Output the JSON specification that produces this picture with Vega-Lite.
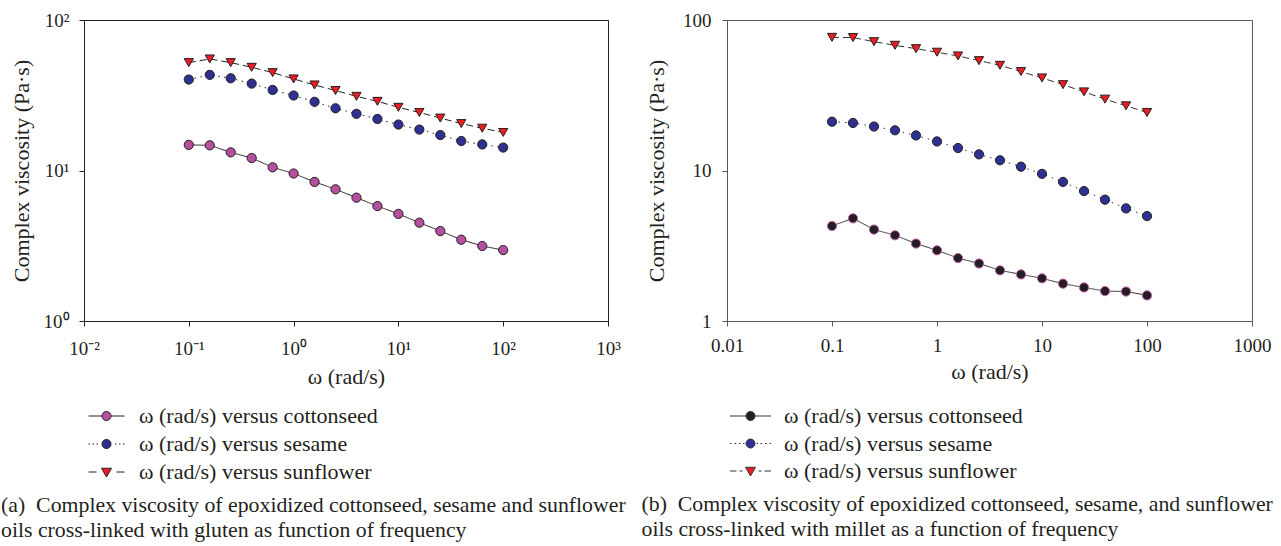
{
  "$schema": "https://vega.github.io/schema/vega-lite/v6.json",
  "background": "white",
  "padding": {"left": 0, "top": 10, "right": 5, "bottom": 5},
  "config": {
    "font": "Liberation Serif",
    "view": {"stroke": "#231f20", "strokeWidth": 1},
    "axis": {"labelFont": "Liberation Serif", "titleFont": "Liberation Serif", "labelFontSize": 19, "titleFontSize": 22, "titleFontWeight": "normal", "labelColor": "#231f20", "titleColor": "#231f20", "grid": false, "tickSize": 5, "labelFlush": false, "labelOverlap": false},
    "title": {"font": "Liberation Serif", "fontSize": 21.8, "fontWeight": "normal", "color": "#231f20"}
  },
  "datasets": {
    "gluten": [
      {"w": 0.1, "oil": "cottonseed", "v": 14.8}, {"w": 0.1585, "oil": "cottonseed", "v": 14.7}, {"w": 0.2512, "oil": "cottonseed", "v": 13.2}, {"w": 0.3981, "oil": "cottonseed", "v": 12.1},
      {"w": 0.631, "oil": "cottonseed", "v": 10.5}, {"w": 1, "oil": "cottonseed", "v": 9.55}, {"w": 1.585, "oil": "cottonseed", "v": 8.4}, {"w": 2.512, "oil": "cottonseed", "v": 7.5},
      {"w": 3.981, "oil": "cottonseed", "v": 6.6}, {"w": 6.31, "oil": "cottonseed", "v": 5.8}, {"w": 10, "oil": "cottonseed", "v": 5.15}, {"w": 15.85, "oil": "cottonseed", "v": 4.5},
      {"w": 25.12, "oil": "cottonseed", "v": 3.96}, {"w": 39.81, "oil": "cottonseed", "v": 3.47}, {"w": 63.1, "oil": "cottonseed", "v": 3.15}, {"w": 100, "oil": "cottonseed", "v": 2.96},
      {"w": 0.1, "oil": "sesame", "v": 40.2}, {"w": 0.1585, "oil": "sesame", "v": 43.2}, {"w": 0.2512, "oil": "sesame", "v": 41.0}, {"w": 0.3981, "oil": "sesame", "v": 37.8},
      {"w": 0.631, "oil": "sesame", "v": 34.3}, {"w": 1, "oil": "sesame", "v": 31.5}, {"w": 1.585, "oil": "sesame", "v": 28.6}, {"w": 2.512, "oil": "sesame", "v": 25.9},
      {"w": 3.981, "oil": "sesame", "v": 23.8}, {"w": 6.31, "oil": "sesame", "v": 22.0}, {"w": 10, "oil": "sesame", "v": 20.2}, {"w": 15.85, "oil": "sesame", "v": 18.7},
      {"w": 25.12, "oil": "sesame", "v": 17.2}, {"w": 39.81, "oil": "sesame", "v": 15.7}, {"w": 63.1, "oil": "sesame", "v": 14.9}, {"w": 100, "oil": "sesame", "v": 14.2},
      {"w": 0.1, "oil": "sunflower", "v": 52.1}, {"w": 0.1585, "oil": "sunflower", "v": 55.1}, {"w": 0.2512, "oil": "sunflower", "v": 52.1}, {"w": 0.3981, "oil": "sunflower", "v": 48.5},
      {"w": 0.631, "oil": "sunflower", "v": 44.7}, {"w": 1, "oil": "sunflower", "v": 40.6}, {"w": 1.585, "oil": "sunflower", "v": 37.0}, {"w": 2.512, "oil": "sunflower", "v": 34.0},
      {"w": 3.981, "oil": "sunflower", "v": 31.1}, {"w": 6.31, "oil": "sunflower", "v": 28.8}, {"w": 10, "oil": "sunflower", "v": 26.3}, {"w": 15.85, "oil": "sunflower", "v": 24.3},
      {"w": 25.12, "oil": "sunflower", "v": 22.3}, {"w": 39.81, "oil": "sunflower", "v": 20.5}, {"w": 63.1, "oil": "sunflower", "v": 19.1}, {"w": 100, "oil": "sunflower", "v": 17.9}
    ],
    "millet": [
      {"w": 0.1, "oil": "cottonseed", "v": 4.28}, {"w": 0.1585, "oil": "cottonseed", "v": 4.81}, {"w": 0.2512, "oil": "cottonseed", "v": 4.05}, {"w": 0.3981, "oil": "cottonseed", "v": 3.71},
      {"w": 0.631, "oil": "cottonseed", "v": 3.27}, {"w": 1, "oil": "cottonseed", "v": 2.95}, {"w": 1.585, "oil": "cottonseed", "v": 2.62}, {"w": 2.512, "oil": "cottonseed", "v": 2.41},
      {"w": 3.981, "oil": "cottonseed", "v": 2.17}, {"w": 6.31, "oil": "cottonseed", "v": 2.04}, {"w": 10, "oil": "cottonseed", "v": 1.92}, {"w": 15.85, "oil": "cottonseed", "v": 1.77},
      {"w": 25.12, "oil": "cottonseed", "v": 1.67}, {"w": 39.81, "oil": "cottonseed", "v": 1.58}, {"w": 63.1, "oil": "cottonseed", "v": 1.57}, {"w": 100, "oil": "cottonseed", "v": 1.48},
      {"w": 0.1, "oil": "sesame", "v": 21.1}, {"w": 0.1585, "oil": "sesame", "v": 20.7}, {"w": 0.2512, "oil": "sesame", "v": 19.6}, {"w": 0.3981, "oil": "sesame", "v": 18.5},
      {"w": 0.631, "oil": "sesame", "v": 17.1}, {"w": 1, "oil": "sesame", "v": 15.6}, {"w": 1.585, "oil": "sesame", "v": 14.1}, {"w": 2.512, "oil": "sesame", "v": 12.8},
      {"w": 3.981, "oil": "sesame", "v": 11.7}, {"w": 6.31, "oil": "sesame", "v": 10.6}, {"w": 10, "oil": "sesame", "v": 9.5}, {"w": 15.85, "oil": "sesame", "v": 8.4},
      {"w": 25.12, "oil": "sesame", "v": 7.3}, {"w": 39.81, "oil": "sesame", "v": 6.4}, {"w": 63.1, "oil": "sesame", "v": 5.6}, {"w": 100, "oil": "sesame", "v": 4.98},
      {"w": 0.1, "oil": "sunflower", "v": 76.7}, {"w": 0.1585, "oil": "sunflower", "v": 76.4}, {"w": 0.2512, "oil": "sunflower", "v": 71.8}, {"w": 0.3981, "oil": "sunflower", "v": 67.9},
      {"w": 0.631, "oil": "sunflower", "v": 64.5}, {"w": 1, "oil": "sunflower", "v": 61.1}, {"w": 1.585, "oil": "sunflower", "v": 57.7}, {"w": 2.512, "oil": "sunflower", "v": 53.7},
      {"w": 3.981, "oil": "sunflower", "v": 50.0}, {"w": 6.31, "oil": "sunflower", "v": 45.4}, {"w": 10, "oil": "sunflower", "v": 41.2}, {"w": 15.85, "oil": "sunflower", "v": 37.2},
      {"w": 25.12, "oil": "sunflower", "v": 33.3}, {"w": 39.81, "oil": "sunflower", "v": 29.8}, {"w": 63.1, "oil": "sunflower", "v": 26.9}, {"w": 100, "oil": "sunflower", "v": 24.3}
    ]
  },
  "bounds": "flush",
  "spacing": 119,
  "resolve": {
    "scale": {"x": "independent", "y": "independent", "fill": "independent", "shape": "independent", "strokeDash": "independent", "stroke": "independent"},
    "legend": {"fill": "independent", "shape": "independent", "strokeDash": "independent", "stroke": "independent"},
    "axis": {"x": "independent", "y": "independent"}
  },
  "hconcat": [
    {
      "width": 524,
      "height": 301,
      "data": {"name": "gluten"},
      "title": {"text": ["(a)\u00a0 Complex viscosity of epoxidized cottonseed, sesame and sunflower", "oils cross-linked with gluten as function of frequency"], "orient": "bottom", "anchor": "start", "frame": "bounds", "dx": -9, "offset": 12, "lineHeight": 25},
      "encoding": {
        "x": {"field": "w", "type": "quantitative", "scale": {"type": "log", "domain": [0.01, 1000]},
          "axis": {"title": "ω (rad/s)", "values": [0.01, 0.1, 1, 10, 100, 1000], "labelExpr": "datum.value < 0.05 ? '10⁻²' : datum.value < 0.5 ? '10⁻¹' : datum.value < 5 ? '10⁰' : datum.value < 50 ? '10¹' : datum.value < 500 ? '10²' : '10³'", "labelPadding": 13, "titlePadding": 8, "domainColor": "#231f20", "tickColor": "#231f20"}},
        "y": {"field": "v", "type": "quantitative", "scale": {"type": "log", "domain": [1, 100]},
          "axis": {"title": "Complex viscosity (Pa·s)", "values": [1, 10, 100], "labelExpr": "datum.value < 5 ? '10⁰' : datum.value < 50 ? '10¹' : '10²'", "labelPadding": 10, "titlePadding": 10, "domainColor": "#231f20", "tickColor": "#231f20"}}
      },
      "layer": [
        {"mark": {"type": "line", "color": "#231f20", "strokeWidth": 1},
          "encoding": {"strokeDash": {"field": "oil", "type": "nominal", "scale": {"domain": ["sesame", "sunflower", "cottonseed"], "range": [[1.5, 4.5], [7, 4], [1, 0]]}, "legend": null}}},
        {"mark": {"type": "point", "filled": true, "opacity": 1, "size": 85, "stroke": "#231f20", "strokeWidth": 1},
          "encoding": {
            "shape": {"field": "oil", "type": "nominal", "scale": {"domain": ["sunflower", "sesame", "cottonseed"], "range": ["triangle-down", "circle", "circle"]}, "legend": null},
            "fill": {"field": "oil", "type": "nominal", "scale": {"domain": ["cottonseed", "sesame", "sunflower"], "range": ["#b5509f", "#2e3192", "#ed1c24"]},
              "legend": {"orient": "none", "legendX": 11.5, "legendY": 385, "direction": "vertical", "title": null, "padding": 0, "symbolSize": 100, "rowPadding": 6, "labelOffset": 21.5, "labelFont": "Liberation Serif", "labelFontSize": 22, "labelColor": "#231f20", "labelLimit": 0,
                "symbolStrokeColor": "#231f20", "symbolStrokeWidth": 1, "symbolOpacity": 1,
                "symbolType": {"expr": "datum.value === 'cottonseed' ? 'M-3.6,0H-0.9M0.9,0H3.6M0.9,0A0.9,0.9 0 1,1 -0.9,0A0.9,0.9 0 1,1 0.9,0Z' : datum.value === 'sesame' ? 'M-3.6,0H-3.3M-2.8,0H-2.5M-2,0H-1.7M1.7,0H2M2.5,0H2.8M3.3,0H3.6M0.9,0A0.9,0.9 0 1,1 -0.9,0A0.9,0.9 0 1,1 0.9,0Z' : 'M-3.6,0H-2M2,0H3.6M-1,-0.75H1L0,1Z'"},
                "labelExpr": "'ω (rad/s) versus ' + datum.label"}}
          }}
      ]
    },
    {
      "width": 525,
      "height": 301,
      "view": {"stroke": "#58595b"},
      "data": {"name": "millet"},
      "title": {"text": ["(b)\u00a0 Complex viscosity of epoxidized cottonseed, sesame, and sunflower", "oils cross-linked with millet as a function of frequency"], "orient": "bottom", "anchor": "start", "frame": "bounds", "dx": -4, "offset": 12, "lineHeight": 25},
      "encoding": {
        "x": {"field": "w", "type": "quantitative", "scale": {"type": "log", "domain": [0.01, 1000]},
          "axis": {"title": "ω (rad/s)", "values": [0.01, 0.1, 1, 10, 100, 1000], "labelExpr": "datum.value < 0.05 ? '0.01' : datum.value < 0.5 ? '0.1' : format(datum.value, 'd')", "labelPadding": 10, "titlePadding": 6, "domainColor": "#58595b", "tickColor": "#58595b"}},
        "y": {"field": "v", "type": "quantitative", "scale": {"type": "log", "domain": [1, 100]},
          "axis": {"title": "Complex viscosity (Pa·s)", "values": [1, 10, 100], "labelExpr": "format(datum.value, 'd')", "labelPadding": 11, "titlePadding": 14, "domainColor": "#58595b", "tickColor": "#58595b"}}
      },
      "layer": [
        {"mark": {"type": "line", "color": "#333333", "strokeWidth": 1},
          "encoding": {"strokeDash": {"field": "oil", "type": "nominal", "scale": {"domain": ["sesame", "sunflower", "cottonseed"], "range": [[1.5, 5], [7, 4], [1, 0]]}, "legend": null}}},
        {"mark": {"type": "point", "filled": true, "opacity": 1, "size": 85, "strokeWidth": 1},
          "encoding": {
            "shape": {"field": "oil", "type": "nominal", "scale": {"domain": ["sunflower", "sesame", "cottonseed"], "range": ["triangle-down", "circle", "circle"]}, "legend": null},
            "stroke": {"field": "oil", "type": "nominal", "scale": {"domain": ["sesame", "cottonseed", "sunflower"], "range": ["#231f20", "#c45cb4", "#231f20"]}, "legend": null},
            "fill": {"field": "oil", "type": "nominal", "scale": {"domain": ["cottonseed", "sesame", "sunflower"], "range": ["#231f20", "#2e3192", "#ed1c24"]},
              "legend": {"orient": "none", "legendX": 12.5, "legendY": 385, "direction": "vertical", "title": null, "padding": 0, "symbolSize": 100, "rowPadding": 5.5, "labelOffset": 22.5, "labelFont": "Liberation Serif", "labelFontSize": 22, "labelColor": "#231f20", "labelLimit": 0,
                "symbolStrokeColor": "#333333", "symbolStrokeWidth": 1, "symbolOpacity": 1,
                "symbolType": {"expr": "datum.value === 'cottonseed' ? 'M-4.1,0H-0.9M0.9,0H4.1M0.9,0A0.9,0.9 0 1,1 -0.9,0A0.9,0.9 0 1,1 0.9,0Z' : datum.value === 'sesame' ? 'M-4.1,0H-3.8M-3.2,0H-2.9M-2.3,0H-2M-1.5,0H-1.2M1.2,0H1.5M2,0H2.3M2.9,0H3.2M3.8,0H4.1M0.9,0A0.9,0.9 0 1,1 -0.9,0A0.9,0.9 0 1,1 0.9,0Z' : 'M-4.1,0H-2.8M-2.2,0H-1.6M1.6,0H2.2M2.8,0H4.1M-1,-0.75H1L0,1Z'"},
                "labelExpr": "'ω (rad/s) versus ' + datum.label"}}
          }}
      ]
    }
  ]
}
